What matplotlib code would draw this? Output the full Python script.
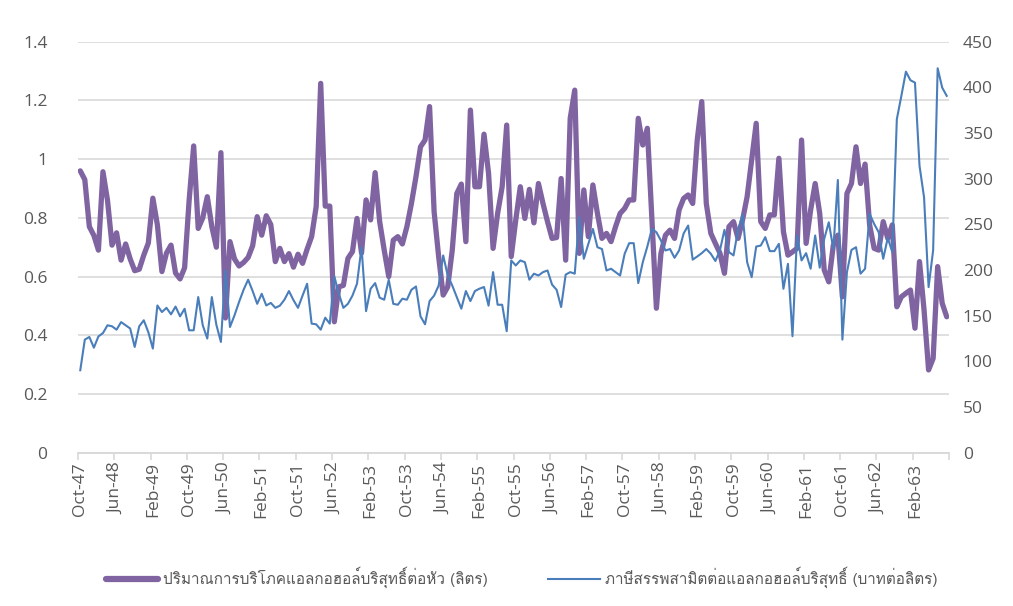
import matplotlib
matplotlib.use("Agg")
import matplotlib.pyplot as plt
from matplotlib import font_manager
from matplotlib.ticker import FixedLocator, NullFormatter
import numpy as np

# ---------------- data ----------------
start_year = 47   # Oct-47 (BE short years)
consumption = [
    0.96, 0.93, 0.77, 0.74, 0.69, 0.957, 0.86, 0.707, 0.749, 0.656,
    0.711, 0.66, 0.62, 0.625, 0.673, 0.714, 0.867, 0.776, 0.617, 0.68,
    0.707, 0.612, 0.592, 0.63, 0.86, 1.045, 0.764, 0.80, 0.872, 0.77,
    0.70, 1.022, 0.459, 0.719, 0.66, 0.636, 0.648, 0.665, 0.705, 0.804,
    0.741, 0.807, 0.777, 0.651, 0.696, 0.651, 0.678, 0.632, 0.676, 0.645,
    0.693, 0.736, 0.838, 1.258, 0.84, 0.84, 0.446, 0.565, 0.57, 0.662,
    0.685, 0.798, 0.68, 0.861, 0.793, 0.954, 0.787, 0.69, 0.60, 0.724,
    0.736, 0.711, 0.77, 0.849, 0.94, 1.042, 1.065, 1.179, 0.821, 0.668,
    0.537, 0.565, 0.69, 0.883, 0.915, 0.719, 1.167, 0.906, 0.906, 1.085,
    0.952, 0.696, 0.815, 0.906, 1.116, 0.668, 0.793, 0.906, 0.798, 0.897,
    0.783, 0.917, 0.849, 0.787, 0.73, 0.733, 0.934, 0.656, 1.139, 1.235,
    0.679, 0.895, 0.736, 0.912, 0.815, 0.73, 0.747, 0.719, 0.77, 0.815,
    0.832, 0.861, 0.861, 1.139, 1.048, 1.105, 0.798, 0.492, 0.679, 0.741,
    0.758, 0.73, 0.827, 0.866, 0.878, 0.849, 1.065, 1.196, 0.849, 0.747,
    0.713, 0.68, 0.611, 0.77, 0.787, 0.73, 0.793, 0.872, 0.997, 1.122,
    0.787, 0.764, 0.81, 0.81, 1.003, 0.753, 0.673, 0.684, 0.696, 1.065,
    0.713, 0.827, 0.917, 0.815, 0.622, 0.582, 0.707, 0.741, 0.531, 0.883,
    0.917, 1.042, 0.917, 0.983, 0.776, 0.696, 0.69, 0.787, 0.73, 0.776,
    0.497, 0.531, 0.543, 0.554, 0.424, 0.651, 0.486, 0.282, 0.321, 0.634,
    0.509, 0.463,
]
excise_tax = [
    90.3, 123.8, 126.7, 115, 127.3, 131, 139.5, 138.4, 134.7, 143,
    139.5, 136, 115.8, 138.4, 145, 132, 114, 161.2, 154, 158.6,
    151.5, 160, 149.3, 157.6, 134, 134, 170.4, 139.5, 125, 170.4,
    140, 121.3, 199.6, 137.6, 150.4, 165, 178.4, 189.4, 177, 163,
    174, 161.2, 164, 158.6, 161, 167.5, 177, 167, 158.6, 172,
    185, 141.3, 140.6, 134.7, 147.8, 141.3, 193, 174, 158.6, 163,
    172, 185, 225, 155, 179.5, 185.7, 169.7, 167.5, 189.4, 163,
    162, 168.6, 167.5, 178.4, 182, 149.3, 140.6, 166, 172, 183,
    216, 194, 183, 170.4, 157.7, 177, 166, 177, 179.6, 181.4,
    161, 197.7, 162, 162, 133, 210.5, 205, 210.5, 208.6, 189.4,
    196, 194, 197.7, 199.5, 184, 178.4, 159.5, 195, 197.7, 196,
    257.7, 212.3, 228.7, 245, 225, 223, 199.5, 201.4, 197.7, 194,
    217.8, 229.4, 229.4, 185.7, 208.6, 225.7, 245, 241.4, 232.3, 221.4,
    223, 213.4, 221.4, 240, 248.7, 211.4, 214.8, 218.5, 223, 217.8,
    209.9, 221.4, 244, 219.6, 216, 244, 260.7, 208.6, 192.2, 225.7,
    226.8, 236, 220.7, 220.7, 228.7, 179.5, 206.8, 127.5, 237.8, 210.5,
    218.5, 201.4, 237.8, 202.6, 234.2, 252.3, 223, 298.6, 123.8, 197.7,
    222, 225, 196, 201.4, 261.5, 250.5, 241.4, 212.3, 235.2, 219.6,
    365.2, 390.7, 417.2, 407.8, 405.2, 314.2, 279.6, 181.3, 221.4, 420.9,
    399.7, 390.7,
]
month_names = ["Jan", "Feb", "Mar", "Apr", "May", "Jun",
               "Jul", "Aug", "Sep", "Oct", "Nov", "Dec"]
label_series1 = "ปริมาณการบริโภคแอลกอฮอล์บริสุทธิ์ต่อหัว (ลิตร)"
label_series2 = "ภาษีสรรพสามิตต่อแอลกอฮอล์บริสุทธิ์ (บาทต่อลิตร)"
left_ticks = [0, 0.2, 0.4, 0.6, 0.8, 1.0, 1.2, 1.4]
left_labels = ["0", "0.2", "0.4", "0.6", "0.8", "1", "1.2", "1.4"]
right_ticks = [0, 50, 100, 150, 200, 250, 300, 350, 400, 450]

n = len(consumption)
cats = []
for k in range(n):
    m = 9 + k  # Oct = index 9
    yr = start_year + m // 12
    cats.append(f"{month_names[m % 12]}-{yr:02d}")

# ---------------- fonts ----------------
def find_thai_font():
    from matplotlib.ft2font import FT2Font
    for f in font_manager.fontManager.ttflist:
        try:
            cm = FT2Font(f.fname).get_charmap()
            if 0x0E1B in cm and 0x0E34 in cm:
                return f.name
        except Exception:
            pass
    return None

thai = find_thai_font()
fams = ([thai] if thai else []) + ["DejaVu Sans"]
plt.rcParams["font.family"] = ["Open Sans", "DejaVu Sans"]

GRAY = "#595959"
PURPLE = "#8064A2"
BLUE = "#4A7EBB"
GRID = "#D9D9D9"

fig = plt.figure(figsize=(10.13, 6.06), dpi=100)
ax = fig.add_axes([78 / 1013, 1 - 452.7 / 606, (949 - 78) / 1013, (452.7 - 41.7) / 606])
ax2 = ax.twinx()

x = np.arange(n)
ax.plot(x, consumption, color=PURPLE, lw=3.8, solid_joinstyle="round",
        solid_capstyle="round", zorder=3, label=label_series1)
ax2.plot(x, excise_tax, color=BLUE, lw=1.5, zorder=3, label=label_series2)

ax.set_xlim(-0.5, n - 0.5)
ax.set_ylim(0, 1.4)
ax2.set_ylim(0, 450)

ax.set_yticks(left_ticks)
ax.set_yticklabels(left_labels)
ax2.set_yticks(right_ticks)

ax.yaxis.grid(True, color=GRID, lw=1.2)
ax.set_axisbelow(True)

for a in (ax, ax2):
    for s in ("top", "left", "right"):
        a.spines[s].set_visible(False)
    a.spines["bottom"].set_color(GRID)
    a.spines["bottom"].set_linewidth(1.2)
    a.tick_params(axis="y", length=0, labelsize=12.5, colors=GRAY)
ax.tick_params(axis="y", pad=22)
ax2.tick_params(axis="y", pad=10)

major = list(range(0, n, 8))
ax.set_xticks(major)
ax.set_xticklabels([cats[k] for k in major], rotation=90)
ax.tick_params(axis="x", which="major", length=0, labelsize=12.5, colors=GRAY, pad=7)
ax.xaxis.set_minor_locator(FixedLocator([k - 0.5 for k in range(0, n + 1, 8)]))
ax.xaxis.set_minor_formatter(NullFormatter())
ax.tick_params(axis="x", which="minor", length=5, color=GRID, width=1.2)

h1, l1 = ax.get_legend_handles_labels()
h2, l2 = ax2.get_legend_handles_labels()
leg = fig.legend(h1 + h2, l1 + l2, loc="center", bbox_to_anchor=(0.515, 0.047),
                 ncol=2, frameon=False, handlelength=3.4, columnspacing=4.0,
                 handletextpad=0.3, prop={"family": fams, "size": 11})
for t in leg.get_texts():
    t.set_color(GRAY)
leg.get_lines()[0].set_linewidth(4.5)

fig.savefig("out.png", dpi=100, facecolor="white")
